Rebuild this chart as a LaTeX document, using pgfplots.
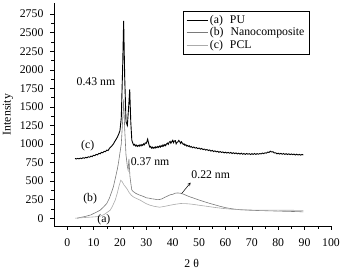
\documentclass[border=0pt]{standalone}
\usepackage{fontspec}
\setmainfont{Liberation Serif}
\usepackage{pgfplots}
\pgfplotsset{compat=1.18}

\newcommand{\chartfont}{\fontsize{11.8}{14}\selectfont}
\definecolor{midgray}{HTML}{7A7A7A}
\definecolor{lightgray}{HTML}{ABABAB}

\begin{document}
\chartfont
\begin{tikzpicture}
\useasboundingbox (-54bp,-43bp) rectangle (289bp,226bp);
\begin{axis}[
  at={(0,0)}, anchor=south west,
  scale only axis, width=277bp, height=223bp,
  xmin=-5, xmax=100, ymin=-105, ymax=2900,
  axis x line*=bottom, axis y line*=left,
  xtick={0,10,...,100}, minor x tick num=1,
  ytick={0,250,...,2750}, minor y tick num=1,
  tick align=outside,
  major tick length=3.5bp, minor tick length=2.5bp,
  every tick/.style={black, line width=0.5pt},
  axis line style={line width=0.6pt},
  tick label style={font=\chartfont},
  /pgf/number format/assume math mode=true,
  /pgf/number format/1000 sep={},
  xticklabel style={yshift=-5bp},
  yticklabel style={xshift=-3bp},
  xlabel={2 θ},
  ylabel={Intensity},
  xlabel style={at={(axis description cs:0.497,-0.168)}, anchor=center, font=\chartfont},
  ylabel style={at={(axis description cs:-0.166,0.5)}, anchor=center, rotate=0, font=\chartfont},
  legend style={at={(0.465,0.965)}, anchor=north west, draw=black, line width=0.5pt,
    font=\chartfont, inner xsep=3bp, inner ysep=2bp, row sep=-1.5pt},
  legend cell align=left,
  legend image code/.code={\draw[#1] (0bp,0bp) -- (21bp,0bp);},
  clip=false,
]
% (a) PU
\addplot[black, line width=0.9pt] coordinates {
(3,805) (3.5,798) (4,806) (4.5,800) (5,810) (5.5,803) (6,815) (6.5,808)
(7,820) (7.5,814) (8,828) (8.5,822) (9,836) (9.5,830) (10,848) (10.5,842)
(11,860) (11.5,854) (12,874) (12.5,868) (13,888) (13.5,882) (14,902)
(14.5,896) (15,918) (15.5,912) (16,940) (16.5,958) (17,978) (17.5,1000)
(18,1032) (18.5,1060) (19,1092) (19.5,1130) (20,1180) (20.5,1350) (21,2000)
(21.4,2660) (21.8,1900) (22.3,1300) (22.8,1250) (23.3,1500) (23.7,1735)
(24.1,1300) (24.5,1050) (25,1000) (25.3,982) (25.6,995) (26,972) (26.3,985)
(26.6,968) (27,982) (27.3,970) (27.6,990) (28,974) (28.3,992) (28.6,980)
(29,1002) (29.3,990) (29.6,1015) (30,1010) (30.5,1065) (31,990) (31.3,958)
(31.6,968) (32,945) (32.3,958) (32.6,942) (33,955) (33.3,944) (33.6,962)
(34,950) (34.3,966) (34.6,955) (35,972) (35.3,958) (35.6,978) (36,966)
(36.3,988) (36.6,972) (37,992) (37.3,978) (37.6,1000) (38,1012) (38.3,995)
(38.6,1020) (39,1035) (39.3,1010) (39.6,1028) (40,1050) (40.3,1018)
(40.6,1040) (41,1045) (41.3,1002) (41.6,1020) (42,1030) (42.3,1048)
(42.6,1035) (43,1008) (43.3,1030) (43.6,1015) (44,995) (44.3,1002)
(44.6,982) (45,992) (45.3,972) (45.6,980) (46,968) (46.3,976) (46.6,958)
(47,966) (47.5,950) (48,960) (48.5,944) (49,952) (49.5,938) (50,946)
(50.5,930) (51,940) (51.5,924) (52,932) (52.5,918) (53,926) (53.5,912)
(54,920) (54.5,904) (55,914) (55.5,898) (56,908) (56.5,894) (57,902)
(57.5,888) (58,898) (58.5,886) (59,894) (59.5,880) (60,890) (60.5,878)
(61,888) (61.5,876) (62,886) (62.5,872) (63,882) (63.5,870) (64,880)
(64.5,866) (65,876) (65.5,864) (66,876) (66.5,862) (67,872) (67.5,860)
(68,872) (68.5,862) (69,870) (69.5,858) (70,870) (70.5,860) (71,872)
(71.5,860) (72,870) (72.5,862) (73,872) (73.5,866) (74,878) (74.5,870)
(75,882) (75.5,876) (76,892) (76.5,886) (77,902) (77.5,892) (78,896)
(78.5,880) (79,882) (79.5,868) (80,876) (80.5,864) (81,874) (81.5,862)
(82,872) (82.5,860) (83,870) (83.5,858) (84,868) (84.5,856) (85,866)
(85.5,856) (86,864) (86.5,852) (87,862) (87.5,852) (88,860) (88.5,850)
(89,860) (89.5,852)
};
\addlegendentry{(a)\hspace{7bp}PU}
% (b) Nanocomposite
\addplot[midgray, line width=0.6pt] coordinates {
(3.7,0) (5,10) (7,25) (9,45) (10,63) (11,80) (12.5,108) (14,160) (15,198)
(16,270) (17,370) (17.5,422) (18,500) (19,660) (19.4,737) (20,880)
(20.5,1000) (21,1300) (21.4,1600) (21.8,1200) (22.3,850) (22.8,700)
(23.1,650) (23.4,800) (23.8,560) (24.2,450) (24.5,380) (25,360) (26,335)
(27,318) (28,305) (29,292) (30,275) (31,270) (32,262) (33,258) (34,250)
(35,252) (36,262) (37,282) (38,298) (39,315) (40,322) (41,338) (42,340)
(43,336) (44,325) (45,310) (46,295) (47,282) (48,270) (50,245) (52,222)
(54,200) (56,180) (58,160) (60,142) (62,130) (64,120) (66,114) (68,110)
(70,106) (72,104) (74,102) (76,100) (78,98) (80,96) (82,94) (84,92)
(86,90) (88,88) (89.5,85)
};
\addlegendentry{(b)\hspace{7bp}Nanocomposite}
% (c) PCL
\addplot[lightgray, line width=0.6pt] coordinates {
(3,0) (5,5) (7,10) (9,15) (11,20) (12.5,27) (14,50) (15,75) (16.3,108)
(17,150) (18.2,243) (19,340) (19.7,440) (20.3,512) (20.8,495) (21.5,450)
(22.6,400) (23.5,345) (24.3,310) (25.1,287) (26,270) (27.7,243) (29,215)
(30,195) (31.4,175) (33,160) (35,148) (37,160) (39,175) (41,188) (43,198)
(45,196) (47,190) (50,175) (53,160) (56,145) (59,132) (62,122) (65,115)
(70,110) (75,108) (80,108) (85,107) (89.5,105)
};
\addlegendentry{(c)\hspace{7bp}PCL}

\node at (axis cs:10.9,1837) {0.43 nm};
\node at (axis cs:31.4,760) {0.37 nm};
\node at (axis cs:54.4,580) {0.22 nm};
\node at (axis cs:7.8,984) {(c)};
\node at (axis cs:8.7,265) {(b)};
\node at (axis cs:13.9,-18) {(a)};
\draw[-stealth, line width=0.5pt] (axis cs:43.4,333) -- (axis cs:46.8,480);
\end{axis}
\end{tikzpicture}
\end{document}
